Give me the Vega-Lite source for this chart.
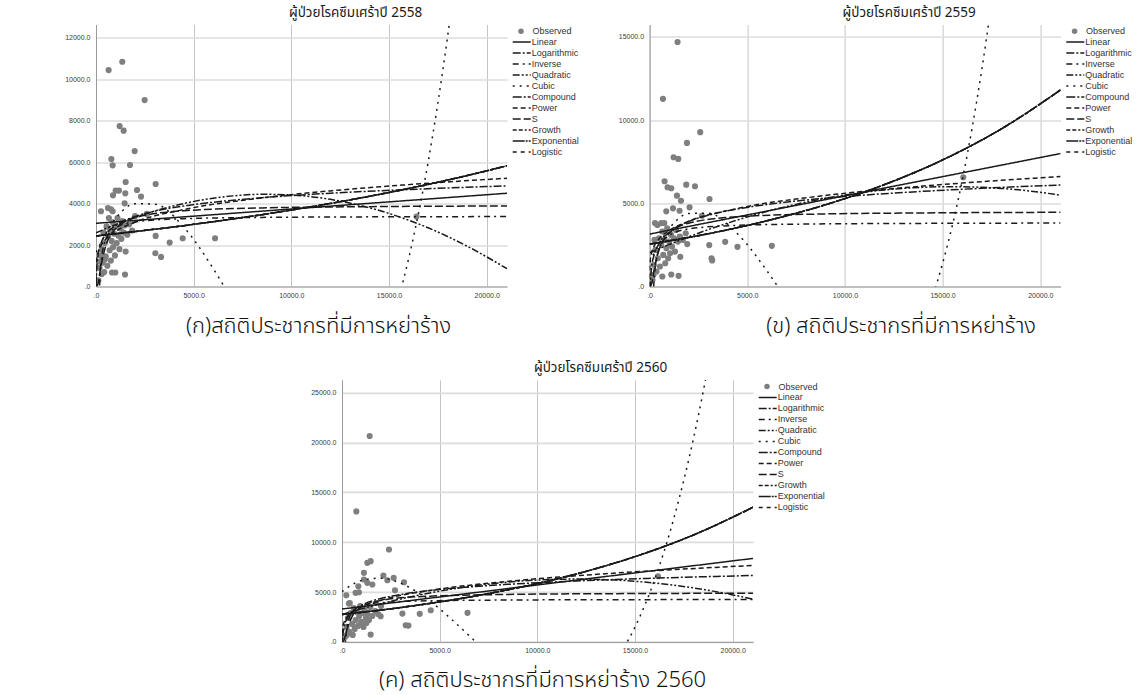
{
  "$schema": "https://vega.github.io/schema/vega-lite/v6.json",
  "background": "white",
  "padding": {"left": 64, "top": 5.5, "right": 0, "bottom": 2},
  "autosize": {"type": "pad"},
  "config": {
    "view": {"stroke": null},
    "font": "Liberation Sans",
    "axis": {
      "labelFont": "Liberation Sans", "labelFontSize": 7, "labelColor": "#3a3a3a",
      "ticks": false, "domainColor": "#9a9a9a", "domainWidth": 1, "grid": true,
      "labelExpr": "datum.value === 0 ? '.0' : format(datum.value, '.1f')",
      "labelOverlap": false, "labelFlush": false,
      "titleFont": "Noto Sans Thai, Loma, Garuda, Norasi, Tahoma, sans-serif",
      "titleFontSize": 22, "titleFontWeight": 300, "titleColor": "#111",
      "titleAlign": "center", "titleBaseline": "alphabetic"
    },
    "axisX": {"gridColor": "#c4c4c4", "gridWidth": 1, "labelPadding": 5},
    "axisY": {"gridColor": "#dcdcdc", "gridWidth": 1.6, "labelPadding": 6},
    "title": {"font": "Noto Sans Thai, Loma, Garuda, Norasi, Tahoma, sans-serif", "fontSize": 13.5, "fontWeight": "normal", "color": "#1a1a1a", "offset": 5, "anchor": "middle", "baseline": "alphabetic"},
    "legend": {"labelFont": "Liberation Sans", "labelFontSize": 9, "labelColor": "#333", "padding": 0, "title": null, "rowPadding": 1}
  },
  "datasets": {
    "obs1": [
      {"x":647,"y":10440},{"x":1347,"y":10843},{"x":2490,"y":8993},{"x":1210,"y":7740},{"x":1416,"y":7518},{"x":1980,"y":6535},{"x":785,"y":6150},{"x":853,"y":5846},{"x":1740,"y":5860},{"x":1518,"y":5041},{"x":3055,"y":4945},{"x":1006,"y":4626},{"x":1177,"y":4626},{"x":2100,"y":4655},{"x":870,"y":4400},{"x":1500,"y":4496},{"x":2305,"y":4337},{"x":1467,"y":4014},{"x":256,"y":3629},{"x":614,"y":3788},{"x":768,"y":3725},{"x":853,"y":3629},{"x":3055,"y":2440},{"x":3771,"y":2120},{"x":4437,"y":2328},{"x":6096,"y":2328},{"x":3038,"y":1605},{"x":3330,"y":1427},{"x":1518,"y":1687},{"x":989,"y":675},{"x":819,"y":675},{"x":1485,"y":578},{"x":16410,"y":3373},
      {"x":120,"y":300},{"x":180,"y":900},{"x":230,"y":1500},{"x":300,"y":1800},{"x":330,"y":1150},{"x":380,"y":2600},{"x":420,"y":700},{"x":450,"y":2100},{"x":500,"y":1450},{"x":540,"y":2900},{"x":580,"y":1000},{"x":620,"y":2400},{"x":660,"y":3300},{"x":700,"y":1750},{"x":730,"y":2700},{"x":760,"y":1250},{"x":800,"y":2200},{"x":850,"y":3100},{"x":880,"y":1900},{"x":930,"y":2550},{"x":970,"y":1500},{"x":1020,"y":2900},{"x":1060,"y":2100},{"x":1100,"y":3300},{"x":1150,"y":2450},{"x":1200,"y":1800},{"x":1250,"y":2800},{"x":1300,"y":2300},{"x":1360,"y":3150},{"x":1420,"y":2600},{"x":1480,"y":2950},{"x":1600,"y":2500},{"x":1700,"y":3000},{"x":1850,"y":2700},{"x":2000,"y":3400},{"x":2600,"y":3500},{"x":300,"y":600},{"x":200,"y":1200},{"x":450,"y":1300}
    ],
    "obs2": [
      {"x":1431,"y":14699},{"x":685,"y":11283},{"x":2592,"y":9277},{"x":1912,"y":8633},{"x":1227,"y":7771},{"x":1467,"y":7669},{"x":767,"y":6325},{"x":920,"y":5964},{"x":1110,"y":5904},{"x":1876,"y":6120},{"x":2321,"y":6024},{"x":1401,"y":5458},{"x":1605,"y":5157},{"x":3067,"y":5259},{"x":854,"y":4518},{"x":1196,"y":4699},{"x":1534,"y":4554},{"x":2045,"y":4759},{"x":276,"y":3813},{"x":598,"y":3813},{"x":752,"y":3813},{"x":2679,"y":4253},{"x":3052,"y":2488},{"x":3870,"y":2687},{"x":4499,"y":2386},{"x":6258,"y":2446},{"x":3170,"y":1687},{"x":3206,"y":1566},{"x":1927,"y":2548},{"x":1570,"y":1783},{"x":1483,"y":639},{"x":1110,"y":723},{"x":16058,"y":6566},
      {"x":150,"y":400},{"x":220,"y":1300},{"x":300,"y":2200},{"x":350,"y":900},{"x":420,"y":1700},{"x":480,"y":2900},{"x":530,"y":1200},{"x":600,"y":2500},{"x":650,"y":3300},{"x":700,"y":1900},{"x":760,"y":2800},{"x":800,"y":1400},{"x":860,"y":2300},{"x":900,"y":3500},{"x":950,"y":1700},{"x":1000,"y":2700},{"x":1050,"y":2000},{"x":1100,"y":3100},{"x":1150,"y":2400},{"x":1250,"y":2900},{"x":1300,"y":2100},{"x":1350,"y":3400},{"x":1450,"y":2700},{"x":1550,"y":3000},{"x":1700,"y":2800},{"x":1850,"y":3200},{"x":400,"y":3700},{"x":250,"y":2800},{"x":200,"y":700},{"x":650,"y":600}
    ],
    "obs3": [
      {"x":1415,"y":20643},{"x":733,"y":13082},{"x":2405,"y":9267},{"x":1297,"y":7931},{"x":1467,"y":8092},{"x":1123,"y":6928},{"x":2118,"y":6657},{"x":2323,"y":6185},{"x":2646,"y":6426},{"x":1123,"y":6255},{"x":1297,"y":5924},{"x":1554,"y":5753},{"x":3174,"y":5984},{"x":836,"y":5582},{"x":2713,"y":5181},{"x":697,"y":4920},{"x":867,"y":4980},{"x":220,"y":4679},{"x":354,"y":3845},{"x":3092,"y":2841},{"x":3979,"y":2811},{"x":4544,"y":3173},{"x":6426,"y":2912},{"x":3262,"y":1667},{"x":3400,"y":1637},{"x":1979,"y":2570},{"x":1467,"y":733},{"x":16174,"y":6586},
      {"x":150,"y":500},{"x":230,"y":1500},{"x":300,"y":2400},{"x":380,"y":1000},{"x":450,"y":2900},{"x":520,"y":1800},{"x":600,"y":3400},{"x":650,"y":1300},{"x":700,"y":2200},{"x":760,"y":3000},{"x":820,"y":1600},{"x":880,"y":2600},{"x":930,"y":3600},{"x":980,"y":2000},{"x":1050,"y":2900},{"x":1100,"y":1500},{"x":1160,"y":3300},{"x":1220,"y":2400},{"x":1300,"y":2800},{"x":1380,"y":2200},{"x":1450,"y":3500},{"x":1550,"y":2600},{"x":1700,"y":3100},{"x":1850,"y":2800},{"x":2000,"y":3600},{"x":400,"y":3900},{"x":250,"y":700},{"x":550,"y":700},{"x":1250,"y":1900}
    ],
    "fit1": [
      {"x":0,"Linear":3050,"Quadratic":2586,"Cubic":1659,"Compound":2440,"Growth":2440,"Exponential":2440,"Logistic":2440,"Power":0},
      {"x":10,"Logarithmic":54,"Power":961},
      {"x":30,"Logarithmic":742,"Power":1225,"S":0},
      {"x":100,"Logarithmic":1497,"Power":1599,"S":119,"Inverse":-2270},
      {"x":250,"Logarithmic":2072,"Power":1958,"S":974,"Inverse":1132},
      {"x":500,"Logarithmic":2507,"Power":2283,"S":1961,"Inverse":2266},
      {"x":1000,"Logarithmic":2941,"Power":2661,"S":2784,"Inverse":2833,"Quadratic":2986,"Cubic":3274},
      {"x":2000,"Logarithmic":3376,"Power":3102,"S":3316,"Inverse":3117,"Quadratic":3337,"Cubic":3998},
      {"x":3000,"Logarithmic":3630,"Quadratic":3640,"Cubic":3975,"Compound":2762,"Growth":2762,"Exponential":2762,"Logistic":2762},
      {"x":4500,"Logarithmic":3884,"Power":3712,"S":3655,"Inverse":3274,"Quadratic":4005,"Cubic":2856},
      {"x":6000,"Logarithmic":4065,"Quadratic":4261,"Cubic":867,"Compound":3127,"Growth":3127,"Exponential":3127,"Logistic":3127},
      {"x":7000,"Quadratic":4372,"Cubic":-702},
      {"x":8500,"Logarithmic":4283,"Power":4273,"S":3791,"Inverse":3333,"Quadratic":4448,"Cubic":-3058,"Compound":3467,"Growth":3467,"Exponential":3467,"Logistic":3467},
      {"x":10000,"Quadratic":4415,"Cubic":-4986},
      {"x":12000,"Logarithmic":4499,"Power":4613,"Quadratic":4204,"Cubic":-6049,"Compound":4007,"Growth":4007,"Exponential":4007,"Logistic":4007},
      {"x":14000,"S":3852,"Inverse":3360,"Quadratic":3799,"Cubic":-4330},
      {"x":15000,"Quadratic":3525,"Cubic":-2067,"Compound":4536,"Growth":4536,"Exponential":4536,"Logistic":4536},
      {"x":16000,"Logarithmic":4679,"Power":4915,"Quadratic":3202,"Cubic":1324},
      {"x":17000,"Quadratic":2832,"Cubic":5988},
      {"x":18000,"Quadratic":2413,"Cubic":12067,"Compound":5134,"Growth":5134,"Exponential":5134,"Logistic":5134},
      {"x":19000,"Quadratic":1946,"Cubic":19708},
      {"x":21040,"Linear":4499,"Logarithmic":4853,"Power":5224,"S":3885,"Inverse":3373,"Quadratic":860,"Compound":5822,"Growth":5822,"Exponential":5822,"Logistic":5822}
    ],
    "fit2": [
      {"x":0,"Linear":3151,"Quadratic":2029,"Cubic":1494,"Compound":2548,"Growth":2548,"Exponential":2548,"Logistic":2548,"Power":0},
      {"x":10,"Logarithmic":-1044,"Power":1209},
      {"x":30,"Logarithmic":3,"Power":1543,"S":0},
      {"x":100,"Logarithmic":1106,"Power":2015,"S":137,"Inverse":-3920},
      {"x":250,"Logarithmic":1962,"Power":2470,"S":1118,"Inverse":742},
      {"x":500,"Logarithmic":2610,"Power":2881,"S":2252,"Inverse":2296},
      {"x":1000,"Logarithmic":3257,"Power":3360,"S":3196,"Inverse":3073,"Quadratic":2525,"Cubic":3475},
      {"x":2000,"Logarithmic":3904,"Power":3919,"S":3807,"Inverse":3462,"Quadratic":2987,"Cubic":4385},
      {"x":3000,"Logarithmic":4283,"Quadratic":3417,"Cubic":4407,"Compound":3171,"Growth":3171,"Exponential":3171,"Logistic":3171},
      {"x":4500,"Logarithmic":4662,"Power":4692,"S":4196,"Inverse":3677,"Quadratic":4000,"Cubic":3170},
      {"x":6000,"Logarithmic":4931,"Quadratic":4508,"Cubic":954,"Compound":3947,"Growth":3947,"Exponential":3947,"Logistic":3947},
      {"x":7000,"Quadratic":4806,"Cubic":-765},
      {"x":8500,"Logarithmic":5256,"Power":5404,"S":4352,"Inverse":3759,"Quadratic":5190,"Cubic":-3252,"Compound":4736,"Growth":4736,"Exponential":4736,"Logistic":4736},
      {"x":10000,"Quadratic":5500,"Cubic":-5086},
      {"x":12000,"Logarithmic":5578,"Power":5833,"Quadratic":5798,"Cubic":-5455,"Compound":6113,"Growth":6113,"Exponential":6113,"Logistic":6113},
      {"x":14000,"S":4423,"Inverse":3795,"Quadratic":5963,"Cubic":-2123},
      {"x":15000,"Quadratic":5996,"Cubic":1386,"Compound":7608,"Growth":7608,"Exponential":7608,"Logistic":7608},
      {"x":16000,"Logarithmic":5846,"Power":6218,"Quadratic":5996,"Cubic":6364},
      {"x":17000,"Quadratic":5963,"Cubic":12993},
      {"x":18000,"Quadratic":5897,"Cubic":21456,"Compound":9469,"Growth":9469,"Exponential":9469,"Logistic":9469},
      {"x":19000,"Quadratic":5798},
      {"x":21040,"Linear":7994,"Logarithmic":6102,"Power":6609,"S":4460,"Inverse":3813,"Quadratic":5490,"Compound":11820,"Growth":11820,"Exponential":11820,"Logistic":11820}
    ],
    "fit3": [
      {"x":0,"Linear":3300,"Quadratic":2745,"Cubic":5030,"Compound":2746,"Growth":2746,"Exponential":2746,"Logistic":2746,"Power":0},
      {"x":10,"Logarithmic":-839,"Power":1075},
      {"x":30,"Logarithmic":237,"Power":1425,"S":0},
      {"x":100,"Logarithmic":1417,"Power":1940,"S":150,"Inverse":-2650},
      {"x":250,"Logarithmic":2315,"Power":2455,"S":1223,"Inverse":1508},
      {"x":500,"Logarithmic":2995,"Power":2933,"S":2463,"Inverse":2894},
      {"x":1000,"Logarithmic":3674,"Power":3505,"S":3495,"Inverse":3587,"Quadratic":3313,"Cubic":6163},
      {"x":2000,"Logarithmic":4353,"Power":4187,"S":4164,"Inverse":3934,"Quadratic":3831,"Cubic":6394},
      {"x":3000,"Logarithmic":4750,"Quadratic":4300,"Cubic":5886,"Compound":3446,"Growth":3446,"Exponential":3446,"Logistic":3446},
      {"x":4500,"Logarithmic":5148,"Power":5156,"S":4589,"Inverse":4126,"Quadratic":4911,"Cubic":4096},
      {"x":6000,"Logarithmic":5430,"Quadratic":5411,"Cubic":1559,"Compound":4324,"Growth":4324,"Exponential":4324,"Logistic":4324},
      {"x":7000,"Quadratic":5683,"Cubic":-274},
      {"x":8500,"Logarithmic":5771,"Power":6070,"S":4760,"Inverse":4198,"Quadratic":5998,"Cubic":-2831,"Compound":5226,"Growth":5226,"Exponential":5226,"Logistic":5226},
      {"x":10000,"Quadratic":6201,"Cubic":-4666},
      {"x":12000,"Logarithmic":6109,"Power":6632,"Quadratic":6300,"Cubic":-5039,"Compound":6810,"Growth":6810,"Exponential":6810,"Logistic":6810},
      {"x":14000,"S":4838,"Inverse":4231,"Quadratic":6201,"Cubic":-1848},
      {"x":15000,"Quadratic":6078,"Cubic":1493,"Compound":8547,"Growth":8547,"Exponential":8547,"Logistic":8547},
      {"x":16000,"Logarithmic":6390,"Power":7140,"Quadratic":5905,"Cubic":6213},
      {"x":17000,"Quadratic":5683,"Cubic":12477},
      {"x":18000,"Quadratic":5411,"Cubic":20447,"Compound":10725,"Growth":10725,"Exponential":10725,"Logistic":10725},
      {"x":19000,"Quadratic":5090,"Cubic":30286},
      {"x":21040,"Linear":8373,"Logarithmic":6659,"Power":7660,"S":4879,"Inverse":4247,"Quadratic":4290,"Compound":13500,"Growth":13500,"Exponential":13500,"Logistic":13500}
    ]
  },
  "resolve": {"scale": {"color": "independent", "strokeDash": "independent"}, "legend": {"color": "independent", "strokeDash": "independent"}},
  "bounds": "flush",
  "spacing": 355.4,
  "vconcat": [
    {
      "bounds": "flush",
      "spacing": 142.6,
      "resolve": {"scale": {"color": "independent", "strokeDash": "independent"}, "legend": {"color": "independent", "strokeDash": "independent"}},
      "hconcat": [
        {
          "width": 411, "height": 262,
          "title": {"text": "ผู้ป่วยโรคซึมเศร้าปี 2558", "dx": 54},
          "encoding": {
            "x": {"field": "x", "type": "quantitative", "scale": {"domain": [0, 21040], "nice": false, "zero": false},
                  "axis": {"values": [0, 5000, 10000, 15000, 20000], "title": "(ก)สถิติประชากรที่มีการหย่าร้าง", "titleX": 222, "titleY": 46}},
            "y": {"field": "y", "type": "quantitative", "scale": {"domain": [0, 12640], "nice": false, "zero": false},
                  "axis": {"values": [0, 2000, 4000, 6000, 8000, 10000, 12000], "title": null}}
          },
          "layer": [
            {"data": {"name": "obs1"}, "mark": {"type": "circle", "size": 38, "opacity": 1, "clip": true},
             "encoding": {"color": {"datum": "Observed", "scale": {"domain": ["Observed"], "range": ["#7f7f7f"]},
               "legend": {"orient": "none", "legendX": 420.5, "legendY": 2.2, "symbolType": "circle", "symbolSize": 30, "symbolStrokeWidth": 0, "labelOffset": 7}}}},
            {"data": {"name": "fit1"},
             "transform": [{"fold": ["Linear","Logarithmic","Inverse","Quadratic","Cubic","Compound","Power","S","Growth","Exponential","Logistic"], "as": ["model", "y"]}, {"filter": {"field": "y", "valid": true}}],
             "mark": {"type": "line", "clip": true, "color": "#1a1a1a", "strokeWidth": 1.5, "interpolate": "monotone"},
             "encoding": {"strokeDash": {"field": "model", "type": "nominal",
               "scale": {"domain": ["Linear","Logarithmic","Inverse","Quadratic","Cubic","Compound","Power","S","Growth","Exponential","Logistic"],
                         "range": [[1,0],[8,2,2,2],[6,4,2,4],[7,2,2,2,2,2],[2,5],[9,2,2,2],[5,3],[8,3],[4,2,4,2,2,2],[12,1,2,1],[4,4]]},
               "legend": {"orient": "none", "legendX": 420.7, "legendY": 12.5, "symbolType": "M-2.25,0H2.25", "symbolSize": 64, "symbolStrokeColor": "#1a1a1a", "symbolStrokeWidth": 1.5, "labelOffset": 5}}}}
          ]
        },
        {
          "width": 411, "height": 262,
          "title": {"text": "ผู้ป่วยโรคซึมเศร้าปี 2559", "dx": 54},
          "encoding": {
            "x": {"field": "x", "type": "quantitative", "scale": {"domain": [0, 21040], "nice": false, "zero": false},
                  "axis": {"values": [0, 5000, 10000, 15000, 20000], "title": "(ข) สถิติประชากรที่มีการหย่าร้าง", "titleX": 251, "titleY": 46}},
            "y": {"field": "y", "type": "quantitative", "scale": {"domain": [0, 15750], "nice": false, "zero": false},
                  "axis": {"values": [0, 5000, 10000, 15000], "title": null}}
          },
          "layer": [
            {"data": {"name": "obs2"}, "mark": {"type": "circle", "size": 38, "opacity": 1, "clip": true},
             "encoding": {"color": {"datum": "Observed", "scale": {"domain": ["Observed"], "range": ["#7f7f7f"]},
               "legend": {"orient": "none", "legendX": 420.5, "legendY": 2.2, "symbolType": "circle", "symbolSize": 30, "symbolStrokeWidth": 0, "labelOffset": 7}}}},
            {"data": {"name": "fit2"},
             "transform": [{"fold": ["Linear","Logarithmic","Inverse","Quadratic","Cubic","Compound","Power","S","Growth","Exponential","Logistic"], "as": ["model", "y"]}, {"filter": {"field": "y", "valid": true}}],
             "mark": {"type": "line", "clip": true, "color": "#1a1a1a", "strokeWidth": 1.5, "interpolate": "monotone"},
             "encoding": {"strokeDash": {"field": "model", "type": "nominal",
               "scale": {"domain": ["Linear","Logarithmic","Inverse","Quadratic","Cubic","Compound","Power","S","Growth","Exponential","Logistic"],
                         "range": [[1,0],[8,2,2,2],[6,4,2,4],[7,2,2,2,2,2],[2,5],[9,2,2,2],[5,3],[8,3],[4,2,4,2,2,2],[12,1,2,1],[4,4]]},
               "legend": {"orient": "none", "legendX": 420.7, "legendY": 12.5, "symbolType": "M-2.25,0H2.25", "symbolSize": 64, "symbolStrokeColor": "#1a1a1a", "symbolStrokeWidth": 1.5, "labelOffset": 5}}}}
          ]
        }
      ]
    },
    {
      "bounds": "flush",
      "spacing": 0,
      "resolve": {"scale": {"color": "independent", "strokeDash": "independent"}, "legend": {"color": "independent", "strokeDash": "independent"}},
      "hconcat": [
        {"width": 245.7, "height": 1, "data": {"values": []}, "mark": "point"},
        {
          "width": 411, "height": 262,
          "title": {"text": "ผู้ป่วยโรคซึมเศร้าปี 2560", "dx": 53},
          "encoding": {
            "x": {"field": "x", "type": "quantitative", "scale": {"domain": [0, 21040], "nice": false, "zero": false},
                  "axis": {"values": [0, 5000, 10000, 15000, 20000], "title": "(ค)  สถิติประชากรที่มีการหย่าร้าง 2560", "titleX": 200, "titleY": 44.5}},
            "y": {"field": "y", "type": "quantitative", "scale": {"domain": [0, 26270], "nice": false, "zero": false},
                  "axis": {"values": [0, 5000, 10000, 15000, 20000, 25000], "title": null}}
          },
          "layer": [
            {"data": {"name": "obs3"}, "mark": {"type": "circle", "size": 38, "opacity": 1, "clip": true},
             "encoding": {"color": {"datum": "Observed", "scale": {"domain": ["Observed"], "range": ["#7f7f7f"]},
               "legend": {"orient": "none", "legendX": 420.5, "legendY": 2.2, "symbolType": "circle", "symbolSize": 30, "symbolStrokeWidth": 0, "labelOffset": 7}}}},
            {"data": {"name": "fit3"},
             "transform": [{"fold": ["Linear","Logarithmic","Inverse","Quadratic","Cubic","Compound","Power","S","Growth","Exponential","Logistic"], "as": ["model", "y"]}, {"filter": {"field": "y", "valid": true}}],
             "mark": {"type": "line", "clip": true, "color": "#1a1a1a", "strokeWidth": 1.5, "interpolate": "monotone"},
             "encoding": {"strokeDash": {"field": "model", "type": "nominal",
               "scale": {"domain": ["Linear","Logarithmic","Inverse","Quadratic","Cubic","Compound","Power","S","Growth","Exponential","Logistic"],
                         "range": [[1,0],[8,2,2,2],[6,4,2,4],[7,2,2,2,2,2],[2,5],[9,2,2,2],[5,3],[8,3],[4,2,4,2,2,2],[12,1,2,1],[4,4]]},
               "legend": {"orient": "none", "legendX": 420.7, "legendY": 12.5, "symbolType": "M-2.25,0H2.25", "symbolSize": 64, "symbolStrokeColor": "#1a1a1a", "symbolStrokeWidth": 1.5, "labelOffset": 5}}}}
          ]
        }
      ]
    }
  ]
}
